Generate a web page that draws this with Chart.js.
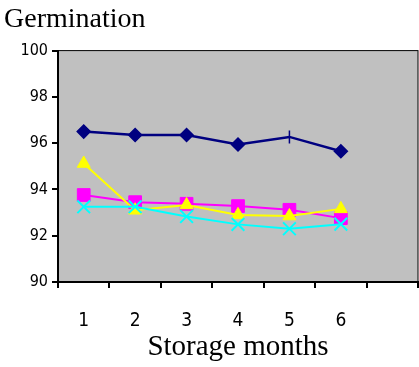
<!DOCTYPE html>
<html>
<head>
<meta charset="utf-8">
<script src="https://cdn.jsdelivr.net/npm/chart.js@4/dist/chart.umd.min.js"></script>
<style>
  html, body { margin: 0; padding: 0; background: #fff; }
  #wrap { width: 419px; height: 367px; }
</style>
</head>
<body>
<div id="wrap"><canvas id="myChart" width="419" height="367"></canvas></div>
<script>
const months = ["1", "2", "3", "4", "5", "6", ""];

const seriesNavy = [96.5, 96.35, 96.35, 95.94, 96.27, 95.65];
const seriesMagenta = [93.76, 93.45, 93.38, 93.28, 93.12, 92.76];
const seriesYellow = [95.12, 93.1, 93.33, 92.9, 92.85, 93.16];
const seriesCyan = [93.25, 93.25, 92.83, 92.49, 92.3, 92.5];

const yTicks = [90, 92, 94, 96, 98, 100];

const narrow = "'DejaVu Sans Condensed', 'DejaVu Sans', sans-serif";
const serif = "'Liberation Serif', 'DejaVu Serif', serif";

// grey plot area with thin frame
const plotBg = {
  id: "plotBg",
  beforeDraw(chart) {
    const { ctx, chartArea: a } = chart;
    ctx.save();
    ctx.fillStyle = "#c0c0c0";
    ctx.fillRect(a.left, a.top, a.right - a.left, a.bottom - a.top);
    ctx.strokeStyle = "#000";
    ctx.lineWidth = 1;
    ctx.strokeRect(a.left, a.top, a.right - a.left, a.bottom - a.top);
    ctx.restore();
  },
};

const ctx = document.getElementById("myChart").getContext("2d");

const data = {
  labels: months,
  datasets: [
    {
      label: "A",
      data: seriesNavy,
      borderColor: "#000080",
      backgroundColor: "#000080",
      borderWidth: 2.5,
      pointStyle: ["rectRot", "rectRot", "rectRot", "rectRot", "line", "rectRot"],
      pointRotation: [0, 0, 0, 0, 90, 0],
      pointRadius: 6.5,
      pointBorderWidth: 1.5,
      order: 3,
    },
    {
      label: "B",
      data: seriesMagenta,
      borderColor: "#ff00ff",
      backgroundColor: "#ff00ff",
      borderWidth: 2,
      pointStyle: "rect",
      pointRadius: 9,
      pointBorderWidth: 1,
      order: 2,
    },
    {
      label: "C",
      data: seriesYellow,
      borderColor: "#ffff00",
      backgroundColor: "#ffff00",
      borderWidth: 2,
      pointStyle: "triangle",
      pointRadius: 7.5,
      pointBorderWidth: 1,
      order: 1,
    },
    {
      label: "D",
      data: seriesCyan,
      borderColor: "#00ffff",
      backgroundColor: "#00ffff",
      borderWidth: 2,
      pointStyle: "crossRot",
      pointRadius: 9,
      pointBorderWidth: 2,
      order: 0,
    },
  ],
};

const config = {
  type: "line",
  data: data,
  plugins: [plotBg],
  options: {
    responsive: false,
    animation: false,
    layout: { autoPadding: false, padding: { left: 4, right: 1, bottom: 0, top: 0 } },
    plugins: {
      legend: { display: false },
      tooltip: { enabled: false },
      title: {
        display: true,
        text: "Germination",
        align: "start",
        color: "#000",
        font: { family: serif, size: 28, weight: "normal" },
        padding: { top: 3, bottom: 14 },
      },
    },
    scales: {
      x: {
        offset: true,
        afterFit(axis) {
          axis.height = 85;
        },
        grid: {
          offset: true,
          drawOnChartArea: false,
          drawTicks: true,
          tickLength: 6,
          color: "#000",
          lineWidth: 2,
        },
        border: { display: true, color: "#000", width: 2 },
        ticks: {
          color: "#000",
          padding: 22,
          font: { family: narrow, size: 19 },
          maxRotation: 0,
        },
        title: {
          display: true,
          text: "Storage months",
          color: "#000",
          font: { family: serif, size: 29 },
          padding: { top: 0, bottom: 2 },
        },
      },
      y: {
        min: yTicks[0],
        max: yTicks[yTicks.length - 1],
        afterBuildTicks(axis) {
          axis.ticks = yTicks.map((v) => ({ value: v }));
        },
        afterFit(axis) {
          axis.width = 54;
        },
        grid: {
          drawOnChartArea: false,
          drawTicks: true,
          tickLength: 6,
          color: "#000",
          lineWidth: 2,
        },
        border: { display: true, color: "#000", width: 2 },
        ticks: {
          color: "#000",
          padding: 4,
          font: { family: narrow, size: 16 },
        },
      },
    },
  },
};

const myChart = new Chart(ctx, config);
</script>
</body>
</html>
